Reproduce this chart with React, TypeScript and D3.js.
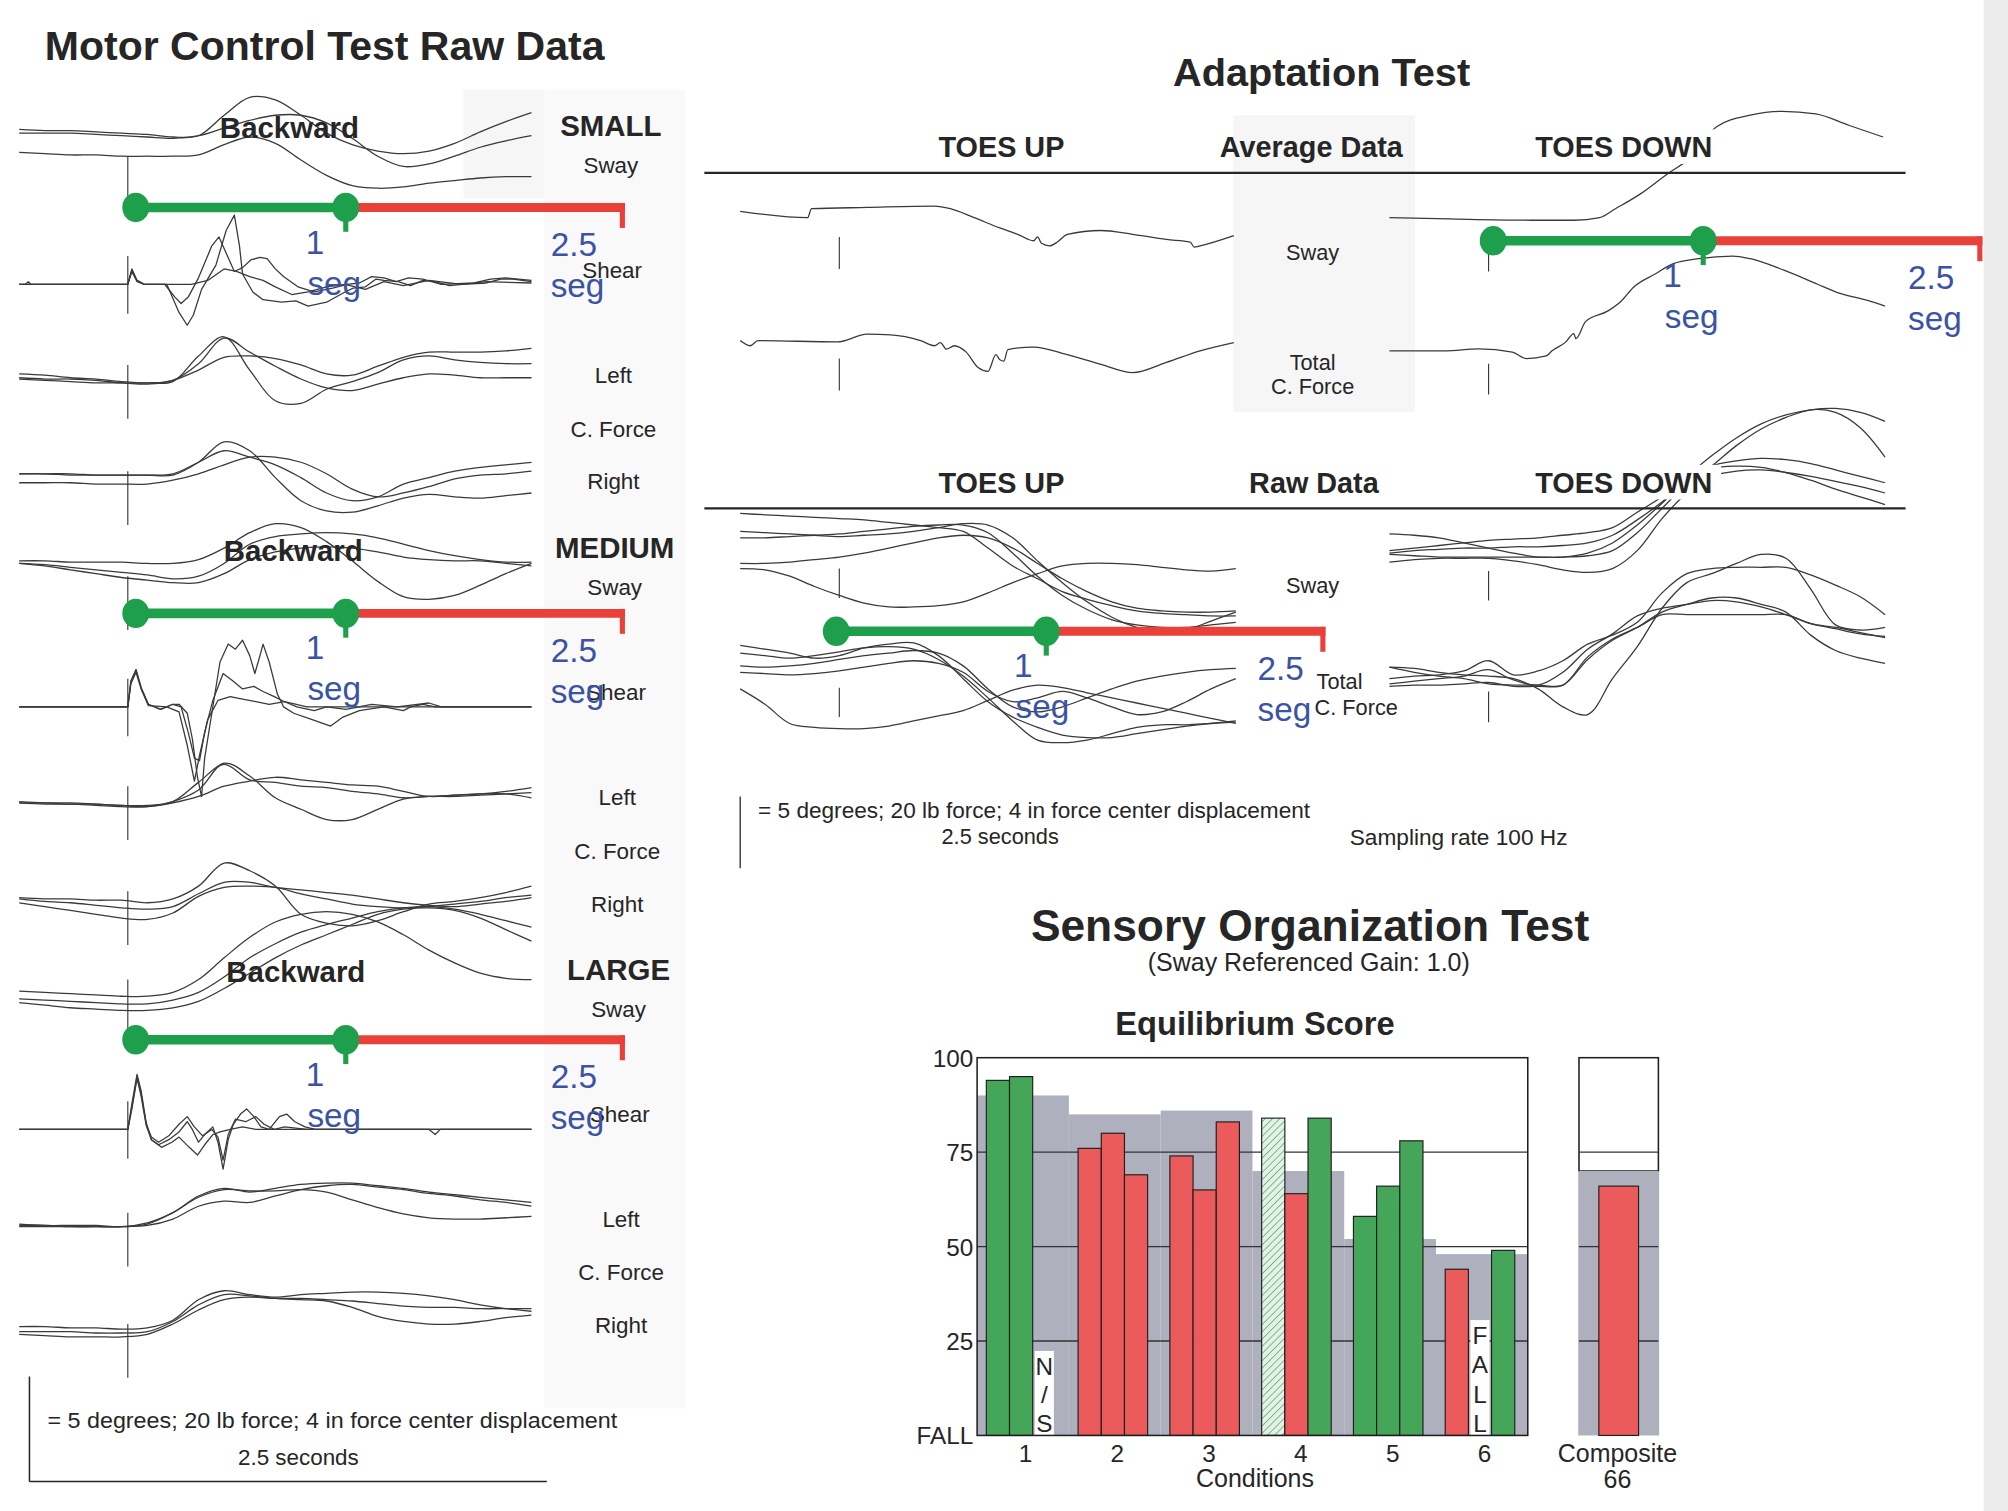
import React from 'react';
import * as d3 from 'd3';

type Pt = [number, number];

const FONT = "'Liberation Sans', Arial, Helvetica, sans-serif";
const INK = '#262626';
const TRACE = '#3a3a3a';
const BLUE = '#3a53a4';
const T_GREEN = '#1e9f4b';
const T_RED = '#e9413a';
const BAR_GREEN = '#45a65a';
const BAR_RED = '#ec5b5b';
const NORM_GREY = '#aeb0bd';

// resampled time base (s) for the smooth channels
const sampleTimes = [0, 0.125, 0.25, 0.375, 0.5, 0.625, 0.75, 0.875, 1, 1.125, 1.25, 1.375, 1.5, 1.625, 1.75, 1.875, 2, 2.125, 2.25, 2.375, 2.5];
const motorStimulus = 0.53;
const adaptStimulus = 0.5;

// ---------- Motor Control Test: SMALL ----------
const smallSway = [
  [4, 3, 3, 2, 1, 0, -2, -1, 15, 29, 27, 15, 1, -8, -13, -15, -13, -7, 2, 10, 17],
  [1, 1, 1, 0, -1, -2, -3, -1, 5, 11, 15, 15, 9, -3, -17, -25, -23, -17, -10, -5, -1],
  [-14, -15, -16, -16, -17, -17, -17, -16, -8, -2, -7, -20, -32, -40, -42, -41, -38, -36, -34, -33, -33],
];
const smallShear: Pt[][] = [
  [[0, 0], [0.53, 0], [0.55, 12], [0.575, 3], [0.61, 0], [0.72, 0], [0.78, -22], [0.82, -32], [0.85, -24], [0.89, -4], [0.96, 15], [1.01, 42], [1.05, 54], [1.075, 30], [1.09, 8], [1.14, -6], [1.19, -12], [1.28, -14], [1.35, -13], [1.41, -17], [1.5, -14], [1.59, -6], [1.63, -3], [1.69, -2], [1.74, 4], [1.78, 3], [1.85, 2], [1.91, -1], [1.97, 3], [2.03, 2], [2.1, -1], [2.16, 0], [2.28, 1], [2.35, 4], [2.41, 4], [2.5, 2]],
  [[0, 0], [0.53, 0], [0.55, 10], [0.575, 2], [0.61, 0], [0.71, 0], [0.76, -10], [0.79, -15], [0.825, -10], [0.875, 5], [0.94, 30], [0.975, 37], [1.0, 28], [1.05, 10], [1.09, 13], [1.13, 19], [1.175, 21], [1.21, 20], [1.25, 12], [1.29, 6], [1.36, -2], [1.44, -6], [1.53, -3], [1.6, 0], [1.66, 1], [1.72, 6], [1.78, 5], [1.84, 2], [1.9, 5], [1.97, 4], [2.06, 0], [2.22, 1], [2.3, 4], [2.375, 5], [2.5, 3]],
  [[0, 0], [0.03, 0], [0.045, 2], [0.055, 0], [0.53, 0], [0.55, 11], [0.575, 3], [0.61, 0], [0.84, 0], [0.92, 3], [1.0, 12], [1.06, 10], [1.125, 6], [1.19, 3], [1.25, -2], [1.33, -8], [1.41, -6], [1.5, -2], [1.59, 0], [1.69, -4], [1.78, 2], [1.875, -1], [2.0, 3], [2.16, 0], [2.28, 2], [2.5, 1]],
];
const smallLeft = [
  [4, 3, 1, 0, -2, -3, -2, 18, 33, 7, -17, -19, -8, -2, 5, 15, 18, 15, 13, 12, 12],
  [1, 0, 0, -1, -3, -3, -1, 12, 32, 21, 10, 0, -7, -9, -4, 1, 4, 3, 1, 1, 1],
  [0, -1, -2, -3, -3, -4, -1, 7, 17, 18, 16, 11, 4, 3, 10, 17, 21, 21, 21, 22, 24],
];
const smallRight = [
  [4, 4, 4, 3, 3, 3, 3, 13, 29, 22, 1, -17, -25, -26, -21, -15, -12, -14, -15, -13, -11],
  [4, 4, 3, 3, 3, 3, 4, 13, 22, 17, 11, 1, -11, -17, -14, -4, 1, 6, 9, 11, 13],
  [-3, -3, -3, -4, -4, -4, -1, 4, 11, 17, 17, 13, 4, -8, -14, -11, -6, 0, 3, 4, 6],
];

// ---------- Motor Control Test: MEDIUM ----------
const mediumSway = [
  [2, 2, 1, 1, 1, 0, 0, 3, 12, 24, 31, 28, 17, 2, -14, -26, -28, -25, -17, -8, 0],
  [0, -1, -3, -5, -7, -9, -12, -10, 0, 15, 21, 23, 24, 23, 20, 15, 10, 6, 3, 1, 1],
  [0, -2, -5, -8, -11, -13, -15, -15, -8, 3, 9, 12, 13, 12, 9, 5, 3, 2, 2, 0, -2],
];
const mediumShear: Pt[][] = [
  [[0, 0], [0.53, 0], [0.545, 20], [0.57, 29], [0.595, 15], [0.63, 2], [0.69, -2], [0.75, 2], [0.78, 2], [0.82, -5], [0.845, -25], [0.87, -55], [0.89, -70], [0.905, -40], [0.94, -5], [0.98, 35], [1.02, 49], [1.055, 45], [1.09, 52], [1.125, 40], [1.15, 26], [1.175, 40], [1.19, 49], [1.22, 35], [1.26, 10], [1.29, 0], [1.34, -5], [1.43, -10], [1.52, -15], [1.58, -8], [1.66, -3], [1.78, 0], [1.875, -3], [1.91, 0], [1.97, 2], [2.03, 0], [2.5, 0]],
  [[0, 0], [0.53, 0], [0.545, 20], [0.57, 29], [0.595, 15], [0.63, 2], [0.69, -2], [0.75, 2], [0.79, 0], [0.825, -20], [0.855, -40], [0.88, -42], [0.905, -20], [0.945, 5], [0.995, 26], [1.045, 20], [1.09, 14], [1.145, 16], [1.19, 12], [1.245, 8], [1.295, 4], [1.355, 0], [1.44, -3], [1.5, 0], [1.595, -2], [1.72, 2], [1.845, 0], [2.0, 3], [2.06, 0], [2.5, 0]],
  [[0, 0], [0.53, 0], [0.545, 18], [0.57, 27], [0.595, 14], [0.63, 1], [0.72, 0], [0.78, -4], [0.82, -30], [0.855, -58], [0.88, -38], [0.92, -10], [0.97, 5], [1.03, 8], [1.09, 6], [1.155, 4], [1.22, 2], [1.295, 4], [1.405, 0], [2.5, 0]],
];
const mediumLeft = [
  [-1, -2, -2, -3, -4, -5, -1, 8, 29, 19, 2, -7, -15, -15, -7, 1, 3, 4, 5, 7, 10],
  [-2, -2, -3, -3, -4, -4, -1, 14, 28, 16, 14, 11, 10, 7, 5, 2, 3, 3, 4, 5, 6],
  [-2, -3, -3, -4, -5, -5, -2, 3, 11, 15, 18, 16, 14, 12, 11, 7, 3, 4, 5, 5, 2],
];
const mediumRight = [
  [1, 0, 0, -1, -1, -3, 0, 10, 28, 22, 10, -12, -19, -21, -17, -10, -4, -2, 1, 5, 10],
  [0, -2, -3, -5, -7, -8, -6, 4, 13, 13, 9, 7, 5, 3, 0, -3, -5, -6, -4, -2, 1],
  [-3, -6, -9, -12, -15, -16, -11, 2, 9, 10, 9, 4, 0, -4, -6, -7, -6, -4, -2, 1, 3],
];

// ---------- Motor Control Test: LARGE ----------
const largeSway = [
  [1, 0, -1, -2, -3, -3, 0, 10, 27, 43, 55, 61, 63, 61, 55, 45, 33, 23, 15, 11, 10],
  [-5, -6, -7, -8, -9, -9, -6, 0, 12, 27, 38, 47, 53, 58, 63, 66, 67, 65, 61, 56, 51],
  [-8, -10, -12, -13, -14, -14, -12, -7, 3, 15, 27, 37, 45, 53, 61, 65, 66, 64, 58, 49, 40],
];
const largeShear: Pt[][] = [
  [[0, 0], [0.53, 0], [0.55, 20], [0.575, 43], [0.595, 30], [0.62, 5], [0.645, -8], [0.68, -12], [0.73, -8], [0.78, -2], [0.82, 6], [0.845, 0], [0.875, -10], [0.905, -4], [0.945, 2], [0.97, -10], [0.995, -31], [1.02, -8], [1.045, 4], [1.08, 12], [1.11, 16], [1.145, 10], [1.18, 2], [1.22, 0], [1.27, 10], [1.305, 12], [1.345, 6], [1.395, 2], [1.445, 0], [2.0, 0], [2.03, -4], [2.055, 0], [2.5, 0]],
  [[0, 0], [0.53, 0], [0.55, 18], [0.575, 41], [0.595, 28], [0.62, 4], [0.645, -6], [0.68, -10], [0.73, -5], [0.78, 4], [0.82, 10], [0.855, 2], [0.895, -5], [0.94, 0], [0.97, -6], [0.995, -24], [1.02, -4], [1.055, 8], [1.105, 6], [1.155, 10], [1.195, 4], [1.245, 0], [1.295, 2], [1.405, 0], [2.5, 0]],
  [[0, 0], [0.53, 0], [0.55, 16], [0.575, 40], [0.595, 26], [0.62, 3], [0.645, -8], [0.695, -14], [0.745, -10], [0.78, -6], [0.83, -14], [0.87, -20], [0.905, -12], [0.945, -4], [0.98, -2], [1.03, 0], [1.09, 2], [1.155, 0], [2.5, 0]],
];
const largeLeft = [
  [2, 1, 1, 1, 0, 3, 11, 24, 30, 27, 30, 33, 34, 34, 32, 30, 27, 25, 23, 21, 19],
  [1, 1, 0, 0, 0, 1, 6, 16, 20, 19, 24, 29, 32, 33, 31, 29, 26, 24, 21, 19, 16],
  [0, 0, 0, 0, 0, 2, 11, 23, 29, 28, 28, 29, 27, 21, 15, 10, 7, 6, 6, 7, 8],
];
const largeRight = [
  [4, 4, 3, 3, 2, 3, 9, 25, 32, 29, 27, 29, 30, 31, 31, 30, 28, 25, 21, 18, 16],
  [0, 0, 0, -1, -1, 0, 8, 21, 29, 28, 26, 25, 24, 19, 12, 8, 6, 6, 8, 11, 13],
  [-2, -3, -4, -4, -4, -2, 6, 17, 25, 27, 26, 26, 25, 24, 22, 20, 19, 19, 18, 18, 18],
];

const motorSizes = ['SMALL', 'MEDIUM', 'LARGE'];
const motorChannels = ['Sway', 'Shear', 'Left', 'C. Force', 'Right'];

// ---------- Adaptation Test ----------
const avgUpSway: Pt[] = [[0, 0], [0.34, -5], [0.36, 2], [0.64, 3], [0.98, 4], [1.06, 2], [1.18, -5], [1.31, -13], [1.4, -18], [1.48, -23], [1.5, -20], [1.52, -25], [1.56, -27], [1.6, -24], [1.65, -18], [1.82, -15], [1.98, -18], [2.15, -22], [2.27, -24], [2.29, -28], [2.32, -27], [2.49, -19]];
const avgUpForce: Pt[] = [[0, 1], [0.05, -3], [0.09, 1], [0.49, 0], [0.64, 6], [0.76, 5.5], [0.91, 1], [0.98, -3], [1.01, -0.5], [1.04, -5.7], [1.08, -3], [1.14, -8], [1.2, -20], [1.25, -23], [1.29, -10], [1.31, -14], [1.33, -15], [1.35, -6], [1.48, -4], [1.65, -10], [1.82, -17.5], [1.98, -24], [2.15, -16], [2.32, -7], [2.49, -0.5]];
const avgDownSway: Pt[] = [[0, 1], [0.3, 0], [0.72, -1], [0.93, -1], [1.06, 1], [1.14, 8], [1.27, 20], [1.4, 35], [1.52, 48], [1.65, 72], [1.82, 81], [1.98, 84], [2.15, 82], [2.32, 73], [2.49, 64]];
const avgDownForce: Pt[] = [[0, 0], [0.28, 0], [0.45, 1.5], [0.62, -1], [0.69, -6], [0.79, -4], [0.82, 0], [0.89, 7], [0.93, 13.5], [0.94, 9.5], [0.99, 23], [1.1, 31], [1.17, 39], [1.23, 49.5], [1.34, 60], [1.43, 68], [1.56, 72], [1.73, 74], [1.82, 72], [1.99, 63], [2.16, 52], [2.26, 45.5], [2.42, 39], [2.5, 35]];

const rawUpSway = [
  [19, 18, 17, 16, 15, 14, 12, 10, 8, 5, -8, -22, -32, -42, -48, -53, -57, -59, -60, -61, -61],
  [5, 4, 3, 2, 1, 2, 3, 5, 8, 11, 10, 0, -18, -35, -50, -62, -70, -74, -72, -65, -58],
  [0, 0, 1, 2, 3, 5, 7, 9, 10, 10, 4, -12, -30, -45, -56, -64, -68, -70, -70, -68, -66],
  [-20, -20, -19, -17, -15, -12, -8, -4, 0, 2, 0, -8, -20, -32, -42, -50, -55, -57, -58, -58, -57],
  [-24, -25, -30, -38, -45, -51, -54, -54, -53, -50, -43, -35, -28, -22, -20, -20, -21, -23, -25, -26, -24],
];
const rawUpForce = [
  [31, 28, 25, 21, 23, 29, 32, 33, 23, 5, -13, -25, -33, -39, -41, -41, -38, -35, -32, -30, -28],
  [25, 23, 21, 23, 26, 29, 30, 28, 20, 7, -10, -28, -43, -45, -43, -38, -33, -31, -31, -30, -29],
  [15, 14, 15, 17, 20, 23, 25, 27, 25, 15, -3, -17, -21, -17, -10, -3, 3, 7, 10, 12, 13],
  [10, 9, 8, 9, 11, 14, 17, 19, 17, 10, -5, -13, -10, -5, -10, -17, -23, -21, -13, -3, 5],
  [-3, -15, -30, -33, -34, -34, -32, -28, -24, -20, -12, -4, 0, -2, -6, -10, -14, -18, -22, -26, -30],
];
const rawDownSway = [
  [13, 12, 10, 6, 2, -2, -5, -5, -4, 0, 14, 33, 52, 66, 82, 95, 104, 110, 108, 96, 73],
  [0, 2, 4, 6, 8, 9, 10, 12, 14, 18, 30, 42, 58, 74, 88, 99, 106, 110, 111, 108, 101],
  [-2, 0, 1, 2, 2, 3, 3, 4, 6, 12, 24, 38, 54, 66, 70, 72, 71, 68, 63, 58, 53],
  [-3, -4, -5, -5, -5, -5, -5, -5, -2, 6, 20, 37, 55, 64, 66, 65, 61, 55, 48, 42, 36],
  [-9, -7, -6, -6, -6, -8, -11, -15, -17, -14, 0, 25, 45, 58, 62, 63, 61, 58, 54, 50, 45],
];
const rawDownForce = [
  [9, 8, 5, 3, 2, 0, -8, -22, -28, 0, 25, 55, 75, 82, 90, 97, 94, 70, 42, 38, 40],
  [0, 2, 3, 6, 14, 3, 6, 14, 27, 34, 44, 67, 82, 86, 87, 87, 87, 81, 73, 64, 50],
  [-4, -2, 0, 2, 7, -1, -5, 5, 23, 35, 49, 55, 58, 61, 60, 56, 50, 43, 39, 35, 33],
  [-6, -5, -5, -4, -3, -6, -6, -5, 17, 31, 40, 50, 50, 50, 50, 50, 50, 43, 40, 36, 32],
  [9, 5, 2, 0, -4, -5, -5, -5, 15, 30, 40, 52, 58, 63, 63, 58, 52, 34, 22, 16, 12],
];

// timeline annotation (seconds)
const timelineMarks = [0, 1, 2.5];

// ---------- Sensory Organization Test ----------
const sotConditions = ['1', '2', '3', '4', '5', '6'];
const sotNormalLimit = [90, 85, 86, 70, 52, 48];
const sotTrialScores = [[94, 95, null], [76, 80, 69], [74, 65, 83], [84, 64, 84], [58, 66, 78], [44, null, 49]];
const sotTrialKind = [['pass', 'pass', 'ns'], ['fail', 'fail', 'fail'], ['fail', 'fail', 'fail'], ['hatch', 'fail', 'pass'], ['pass', 'pass', 'pass'], ['fail', 'fall', 'pass']];
const compositeScore = 66;
const compositeNormal = 70;
const sotTicks = [0, 25, 50, 75, 100];
const sotTickLabels = ['FALL', '25', '50', '75', '100'];

const toPts = (vals: number[]): Pt[] => vals.map((v, i) => [sampleTimes[i], v] as Pt);

function Txt({ x, y, size = 17.5, weight = 'normal', anchor = 'start', fill = INK, len, children }: any) {
  return (
    <text x={x} y={y} fontSize={size} fontWeight={weight} textAnchor={anchor} fill={fill}
      textLength={len} lengthAdjust={len ? 'spacingAndGlyphs' : undefined}>{children}</text>
  );
}

function Traces({ series, x0, x1, base, curve = d3.curveCatmullRom, marker, stim = motorStimulus, width = 1 }: any) {
  const x = d3.scaleLinear().domain([0, 2.5]).range([x0, x1]);
  const y = d3.scaleLinear().domain([-100, 100]).range([base + 100, base - 100]);
  const line = d3.line<Pt>().x(d => x(d[0])).y(d => y(d[1])).curve(curve);
  return (
    <g>
      {marker && <line x1={x(stim)} x2={x(stim)} y1={y(marker[0])} y2={y(marker[1])} stroke={TRACE} strokeWidth={0.9} />}
      {series.map((s: Pt[], i: number) => (
        <path key={i} d={line(s) || ''} fill="none" stroke={TRACE} strokeWidth={width} strokeLinejoin="round" />
      ))}
    </g>
  );
}

function Timeline({ x0, y, oneDx = -24, segDx = -9, endDx = -58 }: any) {
  const s = d3.scaleLinear().domain(timelineMarks).range([x0, x0 + 164, x0 + 382]);
  const one = s(1);
  const end = s(2.5);
  return (
    <g>
      <line x1={s(0)} x2={one} y1={y} y2={y} stroke={T_GREEN} strokeWidth={7.5} />
      <line x1={one} x2={end} y1={y} y2={y} stroke={T_RED} strokeWidth={7} />
      <line x1={end - 2} x2={end - 2} y1={y - 3.5} y2={y + 16} stroke={T_RED} strokeWidth={4} />
      <line x1={one} x2={one} y1={y} y2={y + 19} stroke={T_GREEN} strokeWidth={4} />
      <ellipse cx={s(0)} cy={y} rx={10.5} ry={11.5} fill={T_GREEN} />
      <ellipse cx={one} cy={y} rx={10.5} ry={11.5} fill={T_GREEN} />
      <Txt x={one + oneDx} y={y + 36} size={26} anchor="middle" fill={BLUE}>1</Txt>
      <Txt x={one + segDx} y={y + 68} size={26} anchor="middle" fill={BLUE}>seg</Txt>
      <Txt x={end + endDx} y={y + 38} size={26} fill={BLUE}>2.5</Txt>
      <Txt x={end + endDx} y={y + 70} size={26} fill={BLUE}>seg</Txt>
    </g>
  );
}

const motorData = [
  [smallSway, smallShear, smallLeft, smallRight],
  [mediumSway, mediumShear, mediumLeft, mediumRight],
  [largeSway, largeShear, largeLeft, largeRight],
];

const groupLayout = [
  { bases: [105, 222, 296, 374], tl: 162, dy: 0, labelX: 477, backX: 226, swayMarker: [-17, -55] },
  { bases: [440, 552, 625, 702], tl: 479, dy: 330, labelX: 480, backX: 229, swayMarker: [-10, -52] },
  { bases: [775, 882, 958, 1040], tl: 812, dy: 659, labelX: 483, backX: 231, swayMarker: [10, -37] },
];
const channelLabelY = [135, 217, 299, 341, 382];
const channelMarkers = [null, [22, -23], [11, -31], [6, -36]];

function MotorPanel() {
  return (
    <g>
      <Txt x={35} y={47} size={32} weight="bold" len={437}>Motor Control Test Raw Data</Txt>
      {motorData.map((grp, gi) => {
        const L = groupLayout[gi];
        const [sway, shear, left, right] = grp;
        return (
          <g key={gi}>
            <Traces series={(sway as number[][]).map(toPts)} x0={15} x1={415} base={L.bases[0]} marker={L.swayMarker} />
            <Traces series={shear} x0={15} x1={415} base={L.bases[1]} curve={d3.curveLinear} marker={channelMarkers[1]} />
            <Traces series={(left as number[][]).map(toPts)} x0={15} x1={415} base={L.bases[2]} marker={channelMarkers[2]} />
            <Traces series={(right as number[][]).map(toPts)} x0={15} x1={415} base={L.bases[3]} marker={channelMarkers[3]} />
            <Txt x={L.backX} y={108 + L.dy} size={23} weight="bold" anchor="middle">Backward</Txt>
            <Txt x={L.labelX} y={106 + L.dy} size={23} weight="bold" anchor="middle">{motorSizes[gi]}</Txt>
            {motorChannels.map((c, ci) => (
              <Txt key={c} x={L.labelX + (ci > 0 ? 1 + (ci > 1 ? 1 : 0) : 0)} y={channelLabelY[ci] + L.dy} size={17.5} anchor="middle">{c}</Txt>
            ))}
            <Timeline x0={106} y={L.tl} />
          </g>
        );
      })}
      <line x1={23} x2={23} y1={1075} y2={1157} stroke={INK} strokeWidth={1.2} />
      <line x1={23} x2={427} y1={1157} y2={1157} stroke={INK} strokeWidth={1.2} />
      <Txt x={37} y={1115} size={17.5} len={445}>= 5 degrees; 20 lb force; 4 in force center displacement</Txt>
      <Txt x={233} y={1144} size={17.5} anchor="middle">2.5 seconds</Txt>
    </g>
  );
}

function AdaptationPanel() {
  const upX = [578, 965];
  const dnX = [1085, 1472];
  return (
    <g>
      <Txt x={1032} y={67} size={31} weight="bold" anchor="middle" len={232}>Adaptation Test</Txt>
      {/* average data */}
      <Traces series={[avgUpSway]} x0={upX[0]} x1={upX[1]} base={165} curve={d3.curveMonotoneX} marker={[-20, -45]} stim={adaptStimulus} />
      <Traces series={[avgUpForce]} x0={upX[0]} x1={upX[1]} base={267} curve={d3.curveMonotoneX} marker={[-13, -38]} stim={adaptStimulus} />
      <Traces series={[avgDownSway]} x0={dnX[0]} x1={dnX[1]} base={171} curve={d3.curveMonotoneX} marker={[-14, -41]} stim={adaptStimulus} />
      <Traces series={[avgDownForce]} x0={dnX[0]} x1={dnX[1]} base={274} curve={d3.curveMonotoneX} marker={[-10, -34]} stim={adaptStimulus} />
      {/* raw data */}
      <Traces series={rawUpSway.map(toPts)} x0={upX[0]} x1={upX[1]} base={420} marker={[-24, -47]} stim={adaptStimulus} />
      <Traces series={rawUpForce.map(toPts)} x0={upX[0]} x1={upX[1]} base={535} marker={[-2, -25]} stim={adaptStimulus} />
      <Traces series={rawDownSway.map(toPts)} x0={dnX[0]} x1={dnX[1]} base={430} marker={[-16, -39]} stim={adaptStimulus} />
      <Traces series={rawDownForce.map(toPts)} x0={dnX[0]} x1={dnX[1]} base={530} marker={[-10, -34]} stim={adaptStimulus} />

      <line x1={550} x2={1488} y1={135} y2={135} stroke={INK} strokeWidth={1.6} />
      <line x1={550} x2={1488} y1={397} y2={397} stroke={INK} strokeWidth={1.6} />

      {[123, 385].map((by, i) => (
        <g key={by}>
          <Txt x={782} y={by} size={22.5} weight="bold" anchor="middle">TOES UP</Txt>
          <Txt x={i === 0 ? 1024 : 1026} y={by} size={22.5} weight="bold" anchor="middle">{i === 0 ? 'Average Data' : 'Raw Data'}</Txt>
          <rect x={1195} y={by - 22} width={149} height={27} fill="#fff" />
          <Txt x={1268} y={by} size={22.5} weight="bold" anchor="middle">TOES DOWN</Txt>
        </g>
      ))}

      <Txt x={1025} y={203} size={17} anchor="middle">Sway</Txt>
      <Txt x={1025} y={289} size={17} anchor="middle">Total</Txt>
      <Txt x={1025} y={308} size={17} anchor="middle">C. Force</Txt>
      <Txt x={1025} y={463} size={17} anchor="middle">Sway</Txt>
      <Txt x={1046} y={538} size={17} anchor="middle">Total</Txt>
      <Txt x={1059} y={558} size={17} anchor="middle">C. Force</Txt>

      <Timeline x0={1166} y={188} />
      <Timeline x0={653} y={493} oneDx={-18} segDx={-3} endDx={-53} />

      <line x1={578} x2={578} y1={622} y2={678} stroke={INK} strokeWidth={1} />
      <Txt x={592} y={639} size={17} len={431}>= 5 degrees; 20 lb force; 4 in force center displacement</Txt>
      <Txt x={781} y={659} size={17} anchor="middle">2.5 seconds</Txt>
      <Txt x={1054} y={660} size={17} len={170}>Sampling rate 100 Hz</Txt>
    </g>
  );
}

function SensoryPanel() {
  const condX = d3.scaleBand<string>().domain(sotConditions).range([763, 1193]).padding(0);
  const trialX = d3.scaleBand<number>().domain([0, 1, 2]).range([7.2, 61.5]).padding(0);
  const y = d3.scaleLinear().domain([0, 100]).range([1121, 826]);
  const compX = d3.scaleBand<string>().domain(['Composite']).range([1233, 1295]).paddingInner(0.5).paddingOuter(0.25);
  const grid = sotTicks.filter(t => t > 0 && t < 100);
  const bw = condX.bandwidth();
  const tw = trialX.bandwidth();
  const fillOf = (k: string) => (k === 'pass' ? BAR_GREEN : k === 'fail' ? BAR_RED : 'url(#hatch)');
  return (
    <g>
      <Txt x={1023} y={735} size={34.5} weight="bold" anchor="middle" len={436}>Sensory Organization Test</Txt>
      <Txt x={1022} y={758} size={19.5} anchor="middle">(Sway Referenced Gain: 1.0)</Txt>
      <Txt x={980} y={808} size={25.5} weight="bold" anchor="middle">Equilibrium Score</Txt>

      {/* main plot */}
      <rect x={763} y={y(100)} width={430} height={y(0) - y(100)} fill="#fff" />
      {sotConditions.map((c, i) => (
        <rect key={c} x={condX(c)} y={y(sotNormalLimit[i])} width={bw} height={y(0) - y(sotNormalLimit[i])} fill={NORM_GREY} />
      ))}
      {grid.map(t => <line key={t} x1={763} x2={1193} y1={y(t)} y2={y(t)} stroke="#333" strokeWidth={1} />)}
      {sotConditions.map((c, i) => sotTrialScores[i].map((v, j) => {
        const kind = sotTrialKind[i][j];
        const bx = (condX(c) as number) + (trialX(j) as number);
        if (v == null) {
          const letters = kind === 'ns' ? ['N', '/', 'S'] : ['F', 'A', 'L', 'L'];
          const step = kind === 'ns' ? 22 : 22.7;
          const top = y(0) - 3 - step * (letters.length - 1) - 19;
          return (
            <g key={c + j}>
              <rect x={bx + tw / 2 - 7.5} y={top} width={15} height={y(0) - top} fill="#fff" />
              {letters.map((l, k) => (
                <Txt key={k} x={bx + tw / 2} y={y(0) - 3 - step * (letters.length - 1 - k)} size={19} anchor="middle">{l}</Txt>
              ))}
            </g>
          );
        }
        return <rect key={c + j} x={bx} y={y(v)} width={tw} height={y(0) - y(v)} fill={fillOf(kind)} stroke="#1e1e1e" strokeWidth={0.9} />;
      }))}
      <rect x={763} y={y(100)} width={430} height={y(0) - y(100)} fill="none" stroke="#1e1e1e" strokeWidth={1.2} />
      {sotTicks.map((t, i) => (
        <Txt key={t} x={760} y={y(t) + 7} size={19} anchor="end">{sotTickLabels[i]}</Txt>
      ))}
      {sotConditions.map(c => (
        <Txt key={c} x={(condX(c) as number) + bw / 2 + 2} y={1142} size={19} anchor="middle">{c}</Txt>
      ))}
      <Txt x={980} y={1161} size={19.5} anchor="middle">Conditions</Txt>

      {/* composite */}
      <rect x={1233} y={y(100)} width={62} height={y(compositeNormal) - y(100)} fill="#fff" stroke="#1e1e1e" strokeWidth={1.2} />
      <rect x={1232.4} y={y(compositeNormal)} width={63.2} height={y(0) - y(compositeNormal)} fill={NORM_GREY} />
      {grid.map(t => <line key={t} x1={1233} x2={1295} y1={y(t)} y2={y(t)} stroke="#333" strokeWidth={1} />)}
      <rect x={compX('Composite')} y={y(compositeScore)} width={compX.bandwidth()} height={y(0) - y(compositeScore)} fill={BAR_RED} stroke="#1e1e1e" strokeWidth={0.9} />
      <Txt x={1263} y={1142} size={19.5} anchor="middle">Composite</Txt>
      <Txt x={1263} y={1162} size={19.5} anchor="middle">{String(compositeScore)}</Txt>
    </g>
  );
}

export default function App() {
  return (
    <div style={{ position: 'absolute', left: 0, top: 0, width: 2008, height: 1511, background: '#fff' }}>
      <svg width={2008} height={1511} viewBox="0 0 1568 1180" preserveAspectRatio="none" fontFamily={FONT} style={{ display: 'block' }}>
        <defs>
          <pattern id="hatch" width={4} height={4} patternUnits="userSpaceOnUse" patternTransform="rotate(45)">
            <rect width={4} height={4} fill="#e3f1e6" />
            <line x1={0} y1={0} x2={0} y2={4} stroke="#6aae7c" strokeWidth={1.3} />
          </pattern>
        </defs>
        <rect width={1568} height={1180} fill="#fff" />
        <rect x={362} y={70} width={63} height={85} fill="#f6f6f6" />
        <rect x={425} y={70} width={110} height={1030} fill="#f9f9f9" />
        <rect x={963} y={90} width={142} height={232} fill="#f6f6f6" />
        <rect x={1549} y={0} width={19} height={1180} fill="#ececec" />
        <MotorPanel />
        <AdaptationPanel />
        <SensoryPanel />
      </svg>
    </div>
  );
}
